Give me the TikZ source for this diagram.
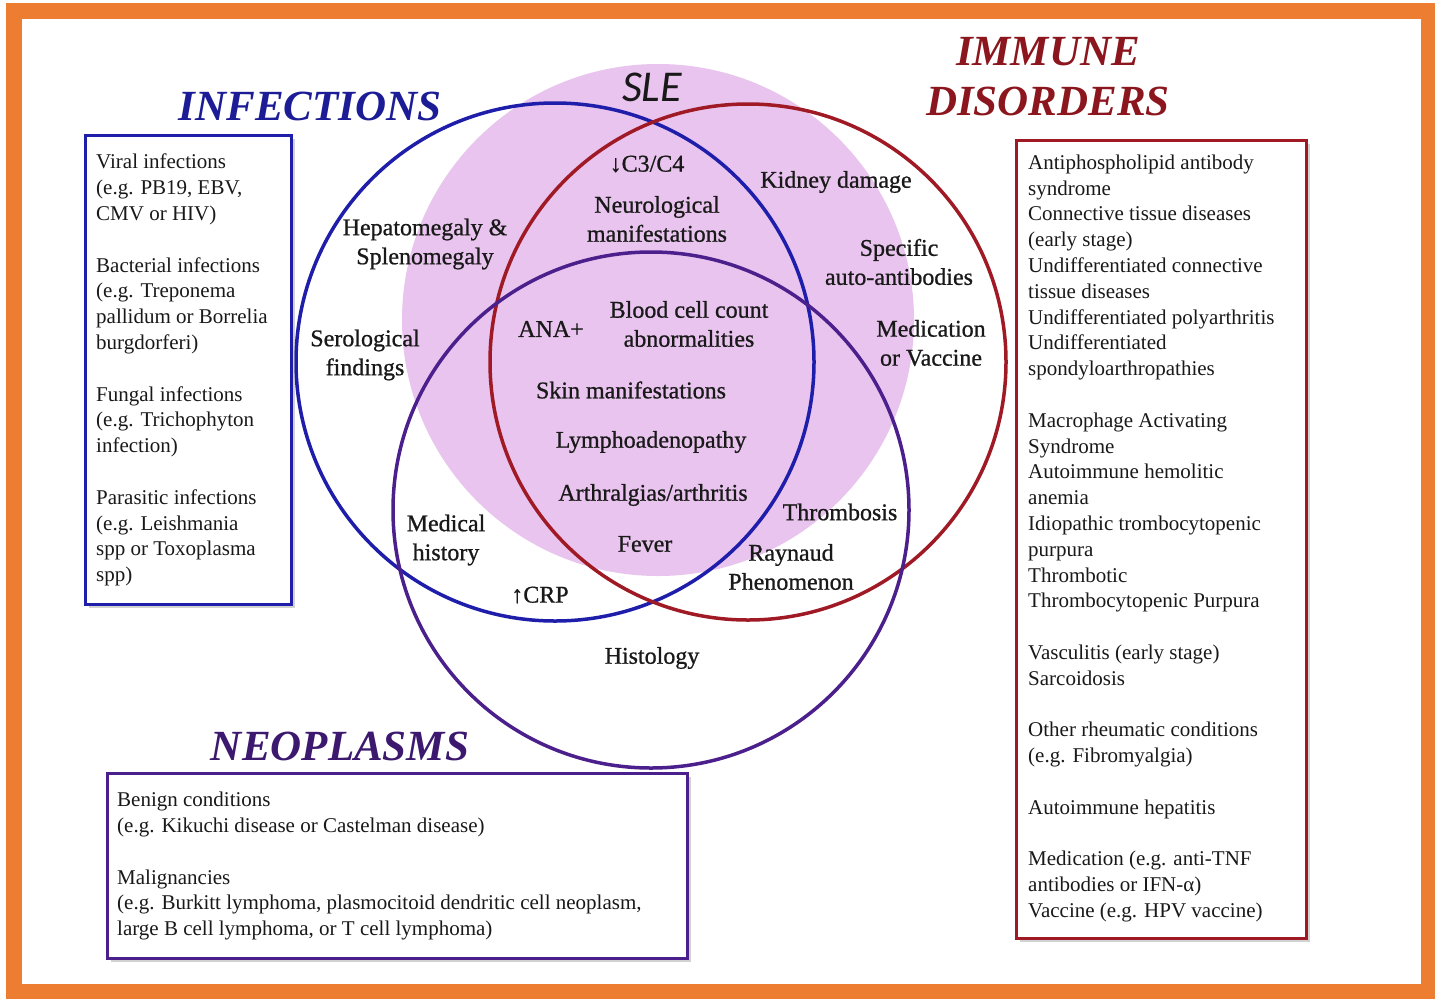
\documentclass[tikz,border=0pt]{standalone}
\usepackage{fontspec}
\setmainfont{Liberation Serif}
\newfontfamily\slefont{Carlito}
\newfontfamily\lblfont[FakeBold=0.8]{Liberation Serif}
\usetikzlibrary{shadows}
\definecolor{frameor}{RGB}{237,125,49}
\definecolor{infblue}{RGB}{30,30,170}
\definecolor{immred}{RGB}{160,26,38}
\definecolor{neopurp}{RGB}{76,32,140}
\definecolor{slepink}{RGB}{233,196,238}
\definecolor{inftitle}{RGB}{28,28,150}
\definecolor{immtitle}{RGB}{140,22,30}
\definecolor{neotitle}{RGB}{60,24,110}
\definecolor{txt}{RGB}{25,25,25}
\begin{document}
\begin{tikzpicture}[x=1pt,y=-1pt,
  venn/.style={line width=3.5pt},
  lbl/.style={font=\lblfont\fontsize{24}{29}\selectfont, text=txt, align=center, inner sep=0pt},
  boxtxt/.style={font=\fontsize{21}{25.8}\selectfont, text=txt, align=left, inner sep=0pt, anchor=north west},
  catbox/.style={line width=3pt, fill=white, anchor=north west, inner sep=0pt,
     drop shadow={shadow xshift=3pt, shadow yshift=-3pt, opacity=0.35}},
  cattitle/.style={font=\fontsize{43}{50}\selectfont\bfseries\itshape, inner sep=0pt, align=center}]

\useasboundingbox (0,0) rectangle (1435,999);
\fill[white] (0,0) rectangle (1435,999);
\fill[frameor] (6,3) rectangle (1435,999);
\fill[white] (22,19) rectangle (1421,984);

% Venn diagram
\fill[slepink] (658,320) circle[radius=256pt];
\draw[venn, infblue] (555,362) circle[radius=259pt];
\draw[venn, immred] (748,362) circle[radius=258pt];
\draw[venn, neopurp] (651,510) circle[radius=258pt];

% titles
\node[cattitle, text=inftitle] (tinf) at (310,106) {INFECTIONS};
\node[cattitle, text=immtitle] (timm) at (1048,77) {IMMUNE\\DISORDERS};
\node[cattitle, text=neotitle] (tneo) at (340,746) {NEOPLASMS};
\node[font=\slefont\itshape\fontsize{44}{48}\selectfont, text=txt, inner sep=0pt] (tsle) at (652,87) {SLE};

% boxes
\node[catbox, draw=infblue, minimum width=206pt, minimum height=469pt] (binf) at (84,134) {};
\node[catbox, draw=immred, minimum width=290pt, minimum height=798pt] (bimm) at (1015,139) {};
\node[catbox, draw=neopurp, minimum width=580pt, minimum height=185pt] (bneo) at (106,772) {};

\node[boxtxt] (xinf) at (96,154) {Viral infections\\
(e.g. PB19, EBV,\\
CMV or HIV)\\[25.8pt]
Bacterial infections\\
(e.g. Treponema\\
pallidum or Borrelia\\
burgdorferi)\\[25.8pt]
Fungal infections\\
(e.g. Trichophyton\\
infection)\\[25.8pt]
Parasitic infections\\
(e.g. Leishmania\\
spp or Toxoplasma\\
spp)};

\node[boxtxt] (ximm) at (1028,154.5) {Antiphospholipid antibody\\
syndrome\\
Connective tissue diseases\\
(early stage)\\
Undifferentiated connective\\
tissue diseases\\
Undifferentiated polyarthritis\\
Undifferentiated\\
spondyloarthropathies\\[25.8pt]
Macrophage Activating\\
Syndrome\\
Autoimmune hemolitic\\
anemia\\
Idiopathic trombocytopenic\\
purpura\\
Thrombotic\\
Thrombocytopenic Purpura\\[25.8pt]
Vasculitis (early stage)\\
Sarcoidosis\\[25.8pt]
Other rheumatic conditions\\
(e.g. Fibromyalgia)\\[25.8pt]
Autoimmune hepatitis\\[25.8pt]
Medication (e.g. anti-TNF\\
antibodies or IFN-α)\\
Vaccine (e.g. HPV vaccine)};

\node[boxtxt] (xneo) at (117,792) {Benign conditions\\
(e.g. Kikuchi disease or Castelman disease)\\[25.8pt]
Malignancies\\
(e.g. Burkitt lymphoma, plasmocitoid dendritic cell neoplasm,\\
large B cell lymphoma, or T cell lymphoma)};

% Venn labels
\node[lbl] (c3) at (647,164) {↓C3/C4};
\node[lbl] (neuro) at (657,219) {Neurological\\manifestations};
\node[lbl] (kidney) at (836,182) {Kidney damage};
\node[lbl] (hepato) at (425,244) {Hepatomegaly \&\\Splenomegaly};
\node[lbl] (specific) at (899,262) {Specific\\auto-antibodies};
\node[lbl] (sero) at (365,355) {Serological\\findings};
\node[lbl] (ana) at (551,329) {ANA+};
\node[lbl] (blood) at (689,324) {Blood cell count\\abnormalities};
\node[lbl] (medic) at (931,343) {Medication\\or Vaccine};
\node[lbl] (skin) at (631,390) {Skin manifestations};
\node[lbl] (lymph) at (651,442) {Lymphoadenopathy};
\node[lbl] (arth) at (653,495) {Arthralgias/arthritis};
\node[lbl] (thromb) at (840,512) {Thrombosis};
\node[lbl] (medhist) at (446,540) {Medical\\history};
\node[lbl] (fever) at (645,544) {Fever};
\node[lbl] (raynaud) at (791,567) {Raynaud\\Phenomenon};
\node[lbl] (crp) at (540,595) {↑CRP};
\node[lbl] (histo) at (652,658) {Histology};
\end{tikzpicture}
\end{document}
